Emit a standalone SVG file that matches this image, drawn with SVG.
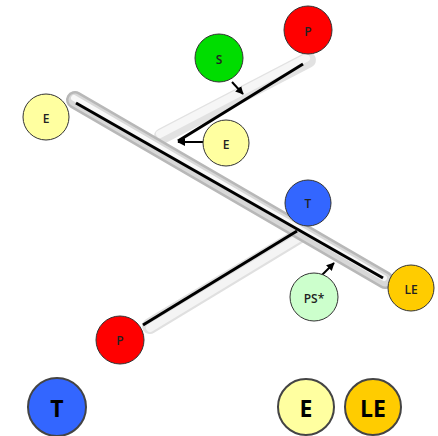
<svg xmlns="http://www.w3.org/2000/svg" width="438" height="436" viewBox="0 0 438 436">
<defs>
<marker id="ah" viewBox="0 0 10 10" refX="9" refY="5" markerWidth="4" markerHeight="4" orient="auto"><path d="M0,0 L10,5 L0,10 z" fill="#000"/></marker>
</defs>
<style>
.n{stroke:#333;stroke-width:1}
.lg{stroke:#444;stroke-width:2}
.t{font-family:"Open Sans","Liberation Sans",sans-serif;font-size:12px;font-weight:600;text-anchor:middle;dominant-baseline:central;fill:#222}
.tl{font-family:"Open Sans","Liberation Sans",sans-serif;font-size:23px;font-weight:bold;text-anchor:middle;dominant-baseline:central;fill:#000}
.tube{fill:none;stroke-linecap:round}
.blk{fill:none;stroke:#000;stroke-width:3}
.ar{fill:none;stroke:#000;stroke-width:2;marker-end:url(#ah)}
</style>
<rect width="438" height="436" fill="#fff"/>
<g id="connectors">
<line class="tube" x1="308" y1="60" x2="162" y2="136" stroke="#e2e2e2" stroke-width="16"/>
<line class="tube" x1="306" y1="58" x2="160" y2="134" stroke="#f6f6f6" stroke-width="8"/>
<line class="tube" x1="302" y1="234" x2="150" y2="326" stroke="#e0e0e0" stroke-width="16"/>
<line class="tube" x1="302" y1="236" x2="150" y2="328" stroke="#f4f4f4" stroke-width="8"/>
<line class="tube" x1="75" y1="100" x2="385" y2="280" stroke="#b8b8b8" stroke-width="18"/>
<line class="tube" x1="75" y1="100" x2="385" y2="280" stroke="#d8d8d8" stroke-width="13"/>
<line class="tube" x1="74" y1="98" x2="384" y2="278" stroke="#f8f8f8" stroke-width="6"/>
<line class="blk" x1="76" y1="103" x2="383" y2="278"/>
<line class="blk" x1="303" y1="64" x2="178" y2="141"/>
<line class="blk" x1="297" y1="231" x2="143" y2="325"/>
<line class="ar" x1="204" y1="142" x2="178" y2="142"/>
<line class="ar" x1="232" y1="82" x2="243" y2="94"/>
<line class="ar" x1="318" y1="279" x2="334" y2="263"/>
</g>
<g id="P_top"><circle class="n" cx="308" cy="30" r="24" fill="#ff0000"/><text class="t" x="308" y="31" fill="#400">P</text></g>
<g id="S"><circle class="n" cx="219" cy="58" r="24" fill="#00dd00"/><text class="t" x="219" y="59">S</text></g>
<g id="E_left"><circle class="n" cx="46" cy="117" r="23" fill="#ffffa0"/><text class="t" x="46" y="118">E</text></g>
<g id="E_mid"><circle class="n" cx="226" cy="143" r="23" fill="#ffffa0"/><text class="t" x="226" y="144">E</text></g>
<g id="T"><circle class="n" cx="308" cy="203" r="23" fill="#3366ff"/><text class="t" x="308" y="203">T</text></g>
<g id="LE"><circle class="n" cx="411" cy="288" r="23" fill="#ffcc00"/><text class="t" x="411" y="289">LE</text></g>
<g id="PS"><circle class="n" cx="314" cy="297" r="24" fill="#ccffcc"/><text class="t" x="314" y="298">PS*</text></g>
<g id="P_bottom"><circle class="n" cx="120" cy="340" r="24" fill="#ff0000"/><text class="t" x="120" y="340" fill="#400">P</text></g>
<g id="legend_T"><circle class="lg" cx="57" cy="407" r="29" fill="#3366ff"/><text class="tl" x="57" y="408">T</text></g>
<g id="legend_E"><circle class="lg" cx="306" cy="407" r="28" fill="#ffffa0"/><text class="tl" x="306" y="408">E</text></g>
<g id="legend_LE"><circle class="lg" cx="373" cy="407" r="28" fill="#ffcc00"/><text class="tl" x="373" y="408">LE</text></g>
</svg>
